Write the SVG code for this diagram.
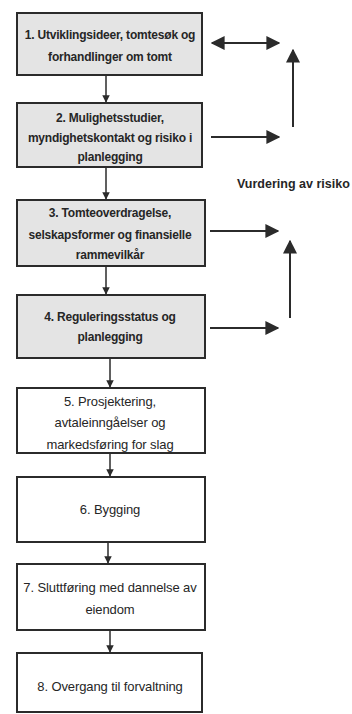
<svg xmlns="http://www.w3.org/2000/svg" width="352" height="714" viewBox="0 0 352 714">
<style>
.box{stroke:#2b2b2b;stroke-width:2}
.g{fill:#e4e4e4}
.w{fill:#ffffff}
.t{font-family:"Liberation Sans",Arial,sans-serif;font-size:12px;fill:#262626;text-anchor:middle;letter-spacing:-0.2px}
.b{font-weight:bold}
.r{font-size:13px;letter-spacing:-0.1px}
.lbl{font-family:"Liberation Sans",Arial,sans-serif;font-size:12.5px;fill:#262626;font-weight:bold}
.c{stroke:#2b2b2b;stroke-width:2;fill:none}
.cs{stroke:#2b2b2b;stroke-width:1.5;fill:none}
</style>
<defs>
<marker id="big" viewBox="0 0 10 10" refX="9" refY="5" markerWidth="7" markerHeight="7" orient="auto-start-reverse" markerUnits="strokeWidth">
<path d="M0,0 L10,5 L0,10 z" fill="#2b2b2b"/>
</marker>
<marker id="sm" viewBox="0 0 10 10" refX="9" refY="5" markerWidth="5" markerHeight="5" orient="auto" markerUnits="strokeWidth">
<path d="M0,0 L10,5 L0,10 z" fill="#2b2b2b"/>
</marker>
</defs>
<rect width="352" height="714" fill="#ffffff"/>
<g id="n1"><rect class="box g" x="17" y="13" width="185" height="62"/>
<text class="t b" x="110" y="39">1. Utviklingsideer, tomtesøk og</text>
<text class="t b" x="110" y="61">forhandlinger om tomt</text></g>
<g id="n2"><rect class="box g" x="17" y="103" width="185" height="64"/>
<text class="t b" x="110" y="122">2. Mulighetsstudier,</text>
<text class="t b" x="110" y="142">myndighetskontakt og risiko i</text>
<text class="t b" x="110" y="161">planlegging</text></g>
<g id="n3"><rect class="box g" x="17" y="200" width="188" height="66"/>
<text class="t b" x="110" y="217">3. Tomteoverdragelse,</text>
<text class="t b" x="110" y="239">selskapsformer og finansielle</text>
<text class="t b" x="110" y="259">rammevilkår</text></g>
<g id="n4"><rect class="box g" x="17" y="295" width="188" height="63"/>
<text class="t b" x="110" y="321">4. Reguleringsstatus og</text>
<text class="t b" x="110" y="341">planlegging</text></g>
<g id="n5"><rect class="box w" x="17" y="388" width="188" height="65"/>
<text class="t r" x="110" y="406">5. Prosjektering,</text>
<text class="t r" x="110" y="427">avtaleinngåelser og</text>
<text class="t r" x="110" y="449">markedsføring for slag</text></g>
<g id="n6"><rect class="box w" x="17" y="477" width="188" height="65"/>
<text class="t r" x="110" y="514">6. Bygging</text></g>
<g id="n7"><rect class="box w" x="17" y="564" width="188" height="66"/>
<text class="t r" x="110" y="592">7. Sluttføring med dannelse av</text>
<text class="t r" x="110" y="614">eiendom</text></g>
<g id="n8"><rect class="box w" x="17" y="653" width="185" height="59"/>
<text class="t r" x="110" y="691">8. Overgang til forvaltning</text></g>
<g id="lbl"><text class="lbl" x="237" y="188">Vurdering av risiko</text></g>
<g id="connectors">
<line class="cs" x1="106" y1="76" x2="106" y2="102" marker-end="url(#sm)"/>
<line class="cs" x1="106" y1="168" x2="106" y2="199" marker-end="url(#sm)"/>
<line class="cs" x1="106" y1="267" x2="106" y2="294" marker-end="url(#sm)"/>
<line class="cs" x1="110" y1="359" x2="110" y2="387" marker-end="url(#sm)"/>
<line class="cs" x1="110" y1="454" x2="110" y2="476" marker-end="url(#sm)"/>
<line class="cs" x1="108" y1="543" x2="108" y2="563" marker-end="url(#sm)"/>
<line class="cs" x1="110" y1="631" x2="110" y2="652" marker-end="url(#sm)"/>
<line class="c" x1="212" y1="43" x2="279" y2="43" marker-start="url(#big)" marker-end="url(#big)"/>
<line class="c" x1="293" y1="127" x2="293" y2="50" marker-end="url(#big)"/>
<line class="c" x1="211" y1="137" x2="279" y2="137" marker-end="url(#big)"/>
<line class="c" x1="210" y1="231" x2="278" y2="231" marker-end="url(#big)"/>
<line class="c" x1="290" y1="318" x2="290" y2="241" marker-end="url(#big)"/>
<line class="c" x1="210" y1="328" x2="278" y2="328" marker-end="url(#big)"/>
</g>
</svg>
